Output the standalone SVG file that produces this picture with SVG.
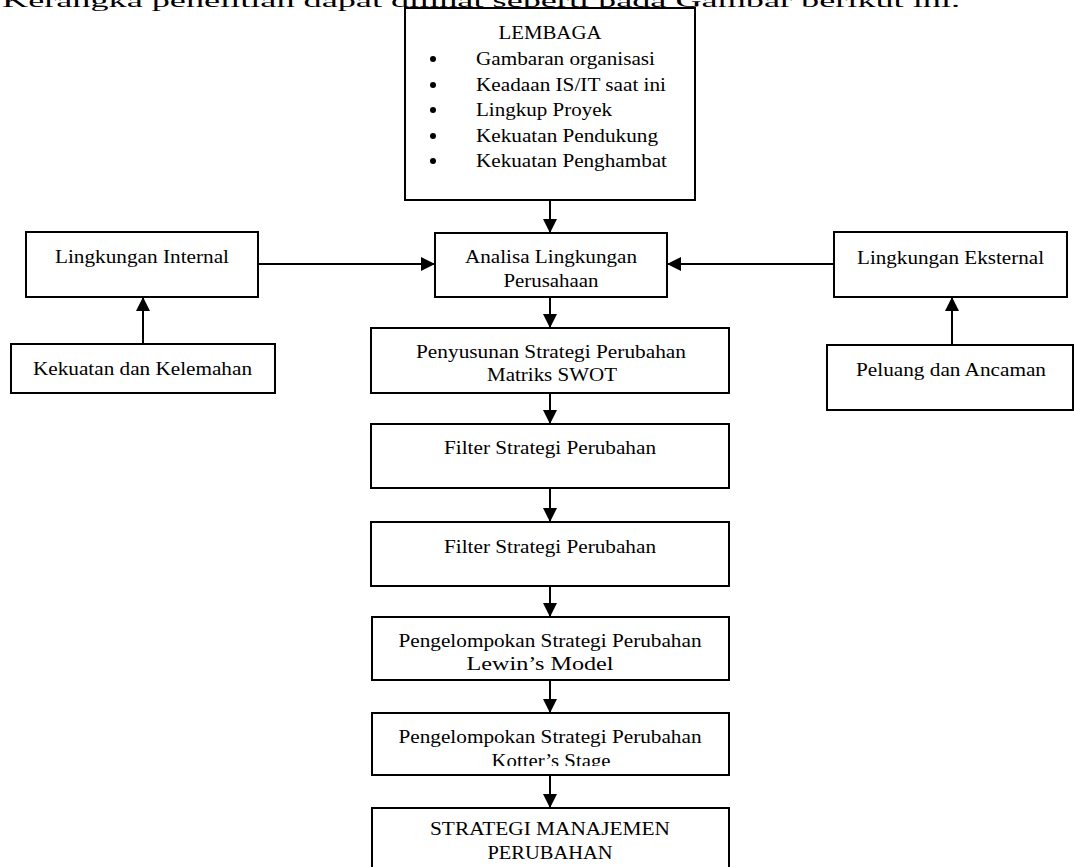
<svg xmlns="http://www.w3.org/2000/svg" width="1074" height="867" viewBox="0 0 1074 867">
<style>
.box{fill:#fff;stroke:#000;stroke-width:2}
.t{font-family:"Liberation Serif","Times New Roman",serif;font-size:18.5px;fill:#000}
.c{text-anchor:middle}
.ln{stroke:#000;stroke-width:2;fill:none}
</style>
<defs>
<marker id="ah" viewBox="0 0 14 14" refX="14" refY="7" markerWidth="14" markerHeight="14" markerUnits="userSpaceOnUse" orient="auto">
<path d="M0,0 L14,7 L0,14 Z" fill="#000"/>
</marker>
<clipPath id="cA"><rect x="430" y="230" width="250" height="58"/></clipPath>
<clipPath id="cP"><rect x="365" y="325" width="370" height="56"/></clipPath>
<clipPath id="cL"><rect x="365" y="615" width="370" height="55"/></clipPath>
<clipPath id="cK"><rect x="365" y="710" width="370" height="56"/></clipPath>
<clipPath id="cS"><rect x="365" y="805" width="370" height="57"/></clipPath>
</defs>
<rect width="1074" height="867" fill="#fff"/>
<text class="t" x="2" y="7" textLength="958" lengthAdjust="spacingAndGlyphs">Kerangka penelitian dapat dilihat seperti pada Gambar berikut ini.</text>

<g id="connectors">
<line class="ln" x1="550" y1="200" x2="550" y2="233" marker-end="url(#ah)"/>
<line class="ln" x1="258" y1="264" x2="435" y2="264" marker-end="url(#ah)"/>
<line class="ln" x1="834" y1="264" x2="667" y2="264" marker-end="url(#ah)"/>
<line class="ln" x1="143" y1="344" x2="143" y2="297" marker-end="url(#ah)"/>
<line class="ln" x1="952" y1="345" x2="952" y2="297" marker-end="url(#ah)"/>
<line class="ln" x1="550" y1="297" x2="550" y2="328" marker-end="url(#ah)"/>
<line class="ln" x1="550" y1="393" x2="550" y2="424" marker-end="url(#ah)"/>
<line class="ln" x1="550" y1="488" x2="550" y2="522" marker-end="url(#ah)"/>
<line class="ln" x1="550" y1="583" x2="550" y2="617" marker-end="url(#ah)"/>
<line class="ln" x1="550" y1="680" x2="550" y2="713" marker-end="url(#ah)"/>
<line class="ln" x1="550" y1="775" x2="550" y2="808" marker-end="url(#ah)"/>
</g>

<g id="lembaga">
<rect class="box" x="405" y="8" width="290" height="192"/>
<text class="t c" x="550" y="39" textLength="103" lengthAdjust="spacingAndGlyphs">LEMBAGA</text>
<circle cx="433" cy="59" r="3"/>
<text class="t" x="476" y="65" textLength="179" lengthAdjust="spacingAndGlyphs">Gambaran organisasi</text>
<circle cx="433" cy="85" r="3"/>
<text class="t" x="476" y="91" textLength="190" lengthAdjust="spacingAndGlyphs">Keadaan IS/IT saat ini</text>
<circle cx="433" cy="110" r="3"/>
<text class="t" x="476" y="116" textLength="136" lengthAdjust="spacingAndGlyphs">Lingkup Proyek</text>
<circle cx="433" cy="136" r="3"/>
<text class="t" x="476" y="142" textLength="182" lengthAdjust="spacingAndGlyphs">Kekuatan Pendukung</text>
<circle cx="433" cy="161" r="3"/>
<text class="t" x="476" y="167" textLength="191" lengthAdjust="spacingAndGlyphs">Kekuatan Penghambat</text>
</g>

<g id="internal">
<rect class="box" x="26" y="232" width="232" height="65"/>
<text class="t c" x="142" y="263" textLength="174" lengthAdjust="spacingAndGlyphs">Lingkungan Internal</text>
</g>
<g id="kekuatan">
<rect class="box" x="11" y="344" width="264" height="49"/>
<text class="t c" x="142.5" y="375" textLength="219" lengthAdjust="spacingAndGlyphs">Kekuatan dan Kelemahan</text>
</g>
<g id="eksternal">
<rect class="box" x="834" y="232" width="233" height="65"/>
<text class="t c" x="950.5" y="264" textLength="187" lengthAdjust="spacingAndGlyphs">Lingkungan Eksternal</text>
</g>
<g id="peluang">
<rect class="box" x="827" y="345" width="246" height="65"/>
<text class="t c" x="951" y="376" textLength="190" lengthAdjust="spacingAndGlyphs">Peluang dan Ancaman</text>
</g>

<g id="analisa">
<rect class="box" x="435" y="233" width="232" height="64"/>
<g clip-path="url(#cA)">
<text class="t c" x="551" y="263" textLength="172" lengthAdjust="spacingAndGlyphs">Analisa Lingkungan</text>
<text class="t c" x="551" y="287" textLength="95" lengthAdjust="spacingAndGlyphs">Perusahaan</text>
</g>
</g>

<g id="penyusunan">
<rect class="box" x="371" y="328" width="358" height="65"/>
<g clip-path="url(#cP)">
<text class="t c" x="551" y="358" textLength="270" lengthAdjust="spacingAndGlyphs">Penyusunan Strategi Perubahan</text>
<text class="t c" x="552" y="381" textLength="130" lengthAdjust="spacingAndGlyphs">Matriks SWOT</text>
</g>
</g>

<g id="filter1">
<rect class="box" x="371" y="424" width="358" height="64"/>
<text class="t c" x="550" y="454" textLength="212" lengthAdjust="spacingAndGlyphs">Filter Strategi Perubahan</text>
</g>

<g id="filter2">
<rect class="box" x="371" y="522" width="358" height="64"/>
<text class="t c" x="550" y="553" textLength="212" lengthAdjust="spacingAndGlyphs">Filter Strategi Perubahan</text>
</g>

<g id="lewin">
<rect class="box" x="372" y="617" width="357" height="63"/>
<g clip-path="url(#cL)">
<text class="t c" x="550" y="647" textLength="303" lengthAdjust="spacingAndGlyphs">Pengelompokan Strategi Perubahan</text>
<text class="t c" x="540" y="670" textLength="147" lengthAdjust="spacingAndGlyphs">Lewin’s Model</text>
</g>
</g>

<g id="kotter">
<rect class="box" x="372" y="713" width="357" height="62"/>
<g clip-path="url(#cK)">
<text class="t c" x="550" y="743" textLength="303" lengthAdjust="spacingAndGlyphs">Pengelompokan Strategi Perubahan</text>
<text class="t c" x="551" y="767" textLength="119" lengthAdjust="spacingAndGlyphs">Kotter’s Stage</text>
</g>
</g>

<g id="strategi">
<rect class="box" x="372" y="808" width="357" height="80"/>
<g clip-path="url(#cS)">
<text class="t c" x="550" y="835" textLength="240" lengthAdjust="spacingAndGlyphs">STRATEGI MANAJEMEN</text>
<text class="t c" x="550" y="859" textLength="125" lengthAdjust="spacingAndGlyphs">PERUBAHAN</text>
</g>
</g>
</svg>
